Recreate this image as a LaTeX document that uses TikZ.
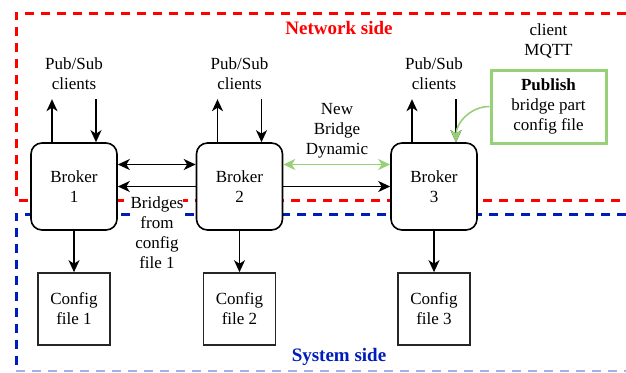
\documentclass[tikz,border=0pt]{standalone}
\usepackage{fontspec}
\setmainfont{Liberation Serif}
\usetikzlibrary{positioning,arrows.meta}
\definecolor{netred}{RGB}{255,0,0}
\definecolor{sysblue}{RGB}{0,29,188}
\definecolor{dyngreen}{RGB}{151,208,119}

\begin{document}
\begin{tikzpicture}[x=1pt,y=-1pt,>={Stealth[length=12pt,width=11pt,inset=3.5pt]},node distance=122.5pt,on grid,
	every node/.style={font=\fontsize{17}{20}\selectfont},
	broker/.style={draw,line width=1.6pt,rounded corners=11pt,minimum width=86pt,minimum height=87pt,fill=white,align=center},
	cfgbox/.style={draw=black!85,line width=1.6pt,minimum size=72pt,fill=white,align=center},
	clients/.style={align=center,inner sep=9pt},
	side/.style={dash pattern=on 9pt off 7pt,line width=3pt},
	conn/.style={line width=1.6pt},
	]
	\useasboundingbox (0,0) rectangle (626,372);

	% network / system frames
	\draw[side,netred] (626,13) -- (16,13) -- (16,200) -- (626,200);
	\draw[side,sysblue] (626,214) -- (16,214) -- (16,372);
	\draw[side,sysblue!35,line width=1.6pt] (16,371) -- (626,371);
	\node[font=\fontsize{19}{22}\selectfont\bfseries,text=netred] (net) at (339,28) {Network side};
	\node[font=\fontsize{19}{22}\selectfont\bfseries,text=sysblue] (sys) at (339,357) {System side};

	\node[broker] (b1) at (74,186.5) {Broker\\1};
	\node[broker] (b2) at (239.5,186.5) {Broker\\2};
	\node[broker] (b3) at (434,186.5) {Broker\\3};

	\node[cfgbox, below = of b1] (c1) {Config\\file 1};
	\node[cfgbox, below = of b2] (c2) {Config\\file 2};
	\node[cfgbox, below = of b3] (c3) {Config\\file 3};

	\node[clients, above = 112.5pt of b1] (ps1) {Pub/Sub\\clients};
	\node[clients, above = 112.5pt of b2] (ps2) {Pub/Sub\\clients};
	\node[clients, above = 112.5pt of b3] (ps3) {Pub/Sub\\clients};

	\node[draw=dyngreen,line width=3pt,minimum width=115pt,minimum height=73pt,align=center] (pub) at (548.5,106.5) {\textbf{Publish}\\bridge part\\config file};
	\node[align=center, above = 65.5pt of pub] (mqtt) {client\\MQTT};

	\node[align=center,fill=white,inner sep=0pt] (fromcfg) at (157,232.5) {Bridges\\from\\config\\file 1};
	\node[align=center] (newbr) at (337,131) {New\\Bridge\\Dynamic};

	\foreach \i in {1,2,3}{
		\draw[->,conn] ([xshift=-22pt]b\i.north) -- ([xshift=-22pt]ps\i.south);
		\draw[->,conn] ([xshift=22pt]ps\i.south) -- ([xshift=22pt]b\i.north);
		\draw[->,conn] (b\i) -- (c\i);
	}

	\draw[<->,conn] ([yshift=22pt]b1.east) -- ([yshift=22pt]b2.west);
	\draw[->,conn] (b2.west) -- (b1.east);
	\draw[->,conn] (b2.east) -- (b3.west);
	\draw[<->,conn,dyngreen] ([yshift=22pt]b2.east) -- ([yshift=22pt]b3.west);
	\draw[->,conn,dyngreen] (pub.west) to[out=180,in=90] ([xshift=22pt]b3.north);

\end{tikzpicture}
\end{document}
